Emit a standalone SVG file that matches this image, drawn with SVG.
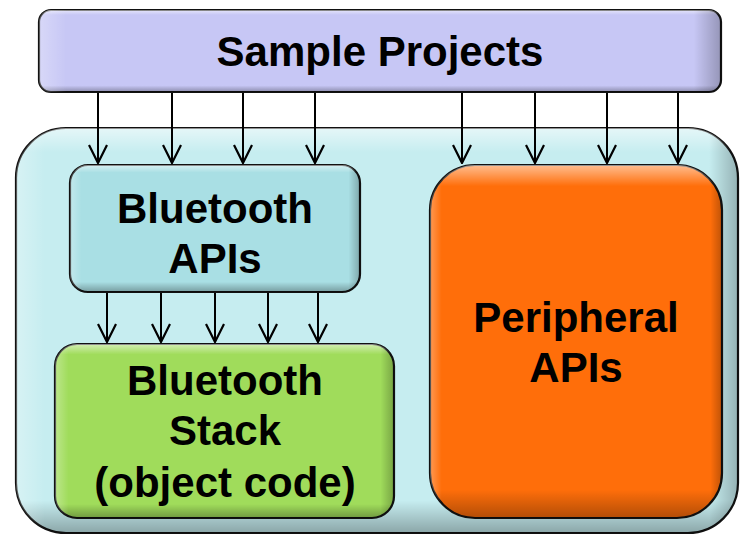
<svg xmlns="http://www.w3.org/2000/svg" width="741" height="535" viewBox="0 0 741 535">
<defs>
<style>
.box{stroke:#111;stroke-width:2.2}
.lbl{font-family:"Liberation Sans",Arial,sans-serif;font-weight:bold;font-size:42px;fill:#000;text-anchor:middle}
.conn line{stroke:#000;stroke-width:2}
</style>
<linearGradient id="hl" x1="0" y1="0" x2="0" y2="1">
<stop offset="0" stop-color="#fff" stop-opacity="0.55"/>
<stop offset="0.06" stop-color="#fff" stop-opacity="0"/>
<stop offset="0.92" stop-color="#000" stop-opacity="0"/>
<stop offset="1" stop-color="#000" stop-opacity="0.3"/>
</linearGradient>
<linearGradient id="hlx" x1="0" y1="0" x2="1" y2="0">
<stop offset="0" stop-color="#fff" stop-opacity="0.3"/>
<stop offset="0.04" stop-color="#fff" stop-opacity="0"/>
<stop offset="0.96" stop-color="#000" stop-opacity="0"/>
<stop offset="1" stop-color="#000" stop-opacity="0.25"/>
</linearGradient>
<marker id="ah" viewBox="0 0 20 20" refX="19" refY="10" markerWidth="20" markerHeight="20" markerUnits="userSpaceOnUse" orient="auto">
<path d="M1,1 L19,10 L1,19" fill="none" stroke="#000" stroke-width="2.2"/>
</marker>
</defs>
<rect width="741" height="535" fill="#fff"/>
<g id="container">
<rect class="box" x="16" y="128" width="722" height="405" rx="50" fill="#C6EDF0"/>
<rect x="16" y="128" width="722" height="405" rx="50" fill="url(#hl)"/>
<rect x="16" y="128" width="722" height="405" rx="50" fill="url(#hlx)"/>
</g>
<g id="sample-projects">
<rect class="box" x="39" y="10" width="682" height="82" rx="12" fill="#C7C7F5"/>
<rect x="39" y="10" width="682" height="82" rx="12" fill="url(#hl)"/>
<rect x="39" y="10" width="682" height="82" rx="12" fill="url(#hlx)"/>
<text class="lbl" x="380" y="66">Sample Projects</text>
</g>
<g id="bluetooth-apis">
<rect class="box" x="70" y="165" width="290" height="127" rx="18" fill="#A9DFE4"/>
<rect x="70" y="165" width="290" height="127" rx="18" fill="url(#hl)"/>
<rect x="70" y="165" width="290" height="127" rx="18" fill="url(#hlx)"/>
<text class="lbl" x="215" y="223">Bluetooth</text>
<text class="lbl" x="215" y="273">APIs</text>
</g>
<g id="bluetooth-stack">
<rect class="box" x="55" y="344" width="339" height="174" rx="22" fill="#A0DC5B"/>
<rect x="55" y="344" width="339" height="174" rx="22" fill="url(#hl)"/>
<rect x="55" y="344" width="339" height="174" rx="22" fill="url(#hlx)"/>
<text class="lbl" x="225" y="395">Bluetooth</text>
<text class="lbl" x="225" y="445">Stack</text>
<text class="lbl" x="225" y="497">(object code)</text>
</g>
<g id="peripheral-apis">
<rect class="box" x="430" y="165" width="292" height="353" rx="45" fill="#FF6E0A"/>
<rect x="430" y="165" width="292" height="353" rx="45" fill="url(#hl)"/>
<rect x="430" y="165" width="292" height="353" rx="45" fill="url(#hlx)"/>
<text class="lbl" x="576" y="332">Peripheral</text>
<text class="lbl" x="576" y="382">APIs</text>
</g>
<g id="connectors" class="conn">
<line x1="98" y1="93" x2="98" y2="163" marker-end="url(#ah)"/>
<line x1="172" y1="93" x2="172" y2="163" marker-end="url(#ah)"/>
<line x1="243" y1="93" x2="243" y2="163" marker-end="url(#ah)"/>
<line x1="315" y1="93" x2="315" y2="163" marker-end="url(#ah)"/>
<line x1="462" y1="93" x2="462" y2="163" marker-end="url(#ah)"/>
<line x1="535" y1="93" x2="535" y2="163" marker-end="url(#ah)"/>
<line x1="607" y1="93" x2="607" y2="163" marker-end="url(#ah)"/>
<line x1="678" y1="93" x2="678" y2="163" marker-end="url(#ah)"/>
<line x1="107" y1="293" x2="107" y2="342" marker-end="url(#ah)"/>
<line x1="161" y1="293" x2="161" y2="342" marker-end="url(#ah)"/>
<line x1="215" y1="293" x2="215" y2="342" marker-end="url(#ah)"/>
<line x1="268" y1="293" x2="268" y2="342" marker-end="url(#ah)"/>
<line x1="318" y1="293" x2="318" y2="342" marker-end="url(#ah)"/>
</g>
</svg>
